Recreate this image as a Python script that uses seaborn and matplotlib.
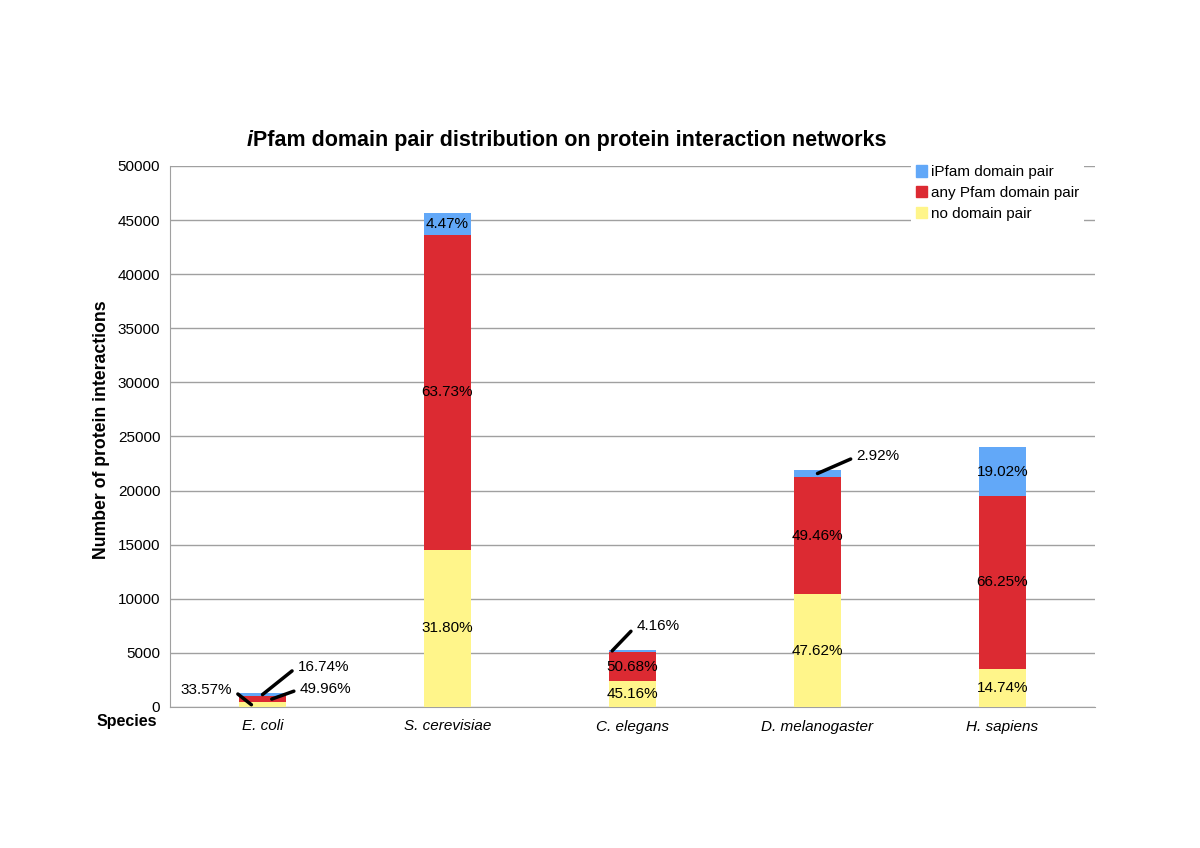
import numpy as np
import matplotlib
matplotlib.use("Agg")
import matplotlib.pyplot as plt
from matplotlib.patches import Patch
import seaborn as sns

species = ["E. coli", "S. cerevisiae", "C. elegans", "D. melanogaster", "H. sapiens"]
no_pair = [420, 14533, 2393, 10429, 3545]
any_pfam = [625, 29125, 2686, 10832, 15933]
ipfam = [209, 2043, 220, 639, 4574]
pct_no = ["33.57%", "31.80%", "45.16%", "47.62%", "14.74%"]
pct_any = ["49.96%", "63.73%", "50.68%", "49.46%", "66.25%"]
pct_ipfam = ["16.74%", "4.47%", "4.16%", "2.92%", "19.02%"]

c_blue = "#62a8f8"
c_red = "#dc2a32"
c_yellow = "#fff58a"
grid_c = "#a0a0a0"

sns.set_style("white")
plt.rcParams["font.family"] = ["Liberation Sans", "DejaVu Sans"]
plt.rcParams["text.color"] = "black"
plt.rcParams["xtick.labelcolor"] = "black"
plt.rcParams["ytick.labelcolor"] = "black"

fig = plt.figure(figsize=(12, 8.48), dpi=100)
ax = fig.add_axes([170 / 1200, 141 / 848, 925 / 1200, 541 / 848])

no_arr = np.array(no_pair)
red_top = no_arr + np.array(any_pfam)
total = red_top + np.array(ipfam)

# stacked layers drawn back to front
sns.barplot(x=species, y=total, color=c_blue, width=0.25, saturation=1, linewidth=0, ax=ax, zorder=3)
sns.barplot(x=species, y=red_top, color=c_red, width=0.25, saturation=1, linewidth=0, ax=ax, zorder=3)
sns.barplot(x=species, y=no_arr, color=c_yellow, width=0.25, saturation=1, linewidth=0, ax=ax, zorder=3)

ax.set_ylim(0, 50000)
ax.set_xlim(-0.5, 4.5)
ax.set_yticks(np.arange(0, 50001, 5000))
ax.yaxis.grid(True, color=grid_c, lw=1)
ax.set_axisbelow(True)
for s in ["top", "right"]:
    ax.spines[s].set_visible(False)
for s in ["left", "bottom"]:
    ax.spines[s].set_color(grid_c)
ax.tick_params(axis="y", which="major", direction="out", length=5, color=grid_c,
               labelcolor="black", labelsize=11, pad=2)
ax.tick_params(axis="x", which="major", length=0, labelsize=11, labelcolor="black", pad=9)
ax.set_xticks(np.arange(0.5, 5, 1), minor=True)
ax.tick_params(axis="x", which="minor", direction="out", length=5, color=grid_c)
for lbl in ax.get_xticklabels():
    lbl.set_style("italic")
ax.set_xlabel("")
ax.set_ylabel("")

# labels inside segments
lab_kw = dict(ha="center", va="center", fontsize=11, color="black", zorder=5)
small = {(0, 0), (0, 1), (0, 2), (2, 2), (3, 2)}
for i in range(len(species)):
    segs = [(no_pair[i] / 2, pct_no[i]),
            (no_pair[i] + any_pfam[i] / 2, pct_any[i]),
            (red_top[i] + ipfam[i] / 2, pct_ipfam[i])]
    for k, (yc, txt) in enumerate(segs):
        if (i, k) not in small:
            ax.text(i, yc, txt, **lab_kw)

# leader-line labels for thin segments
line_kw = dict(arrowstyle="-", lw=2.5, color="black", shrinkA=2, shrinkB=0)
def callout(i, dx, yval, txt, off, side="left"):
    ax.annotate(txt, xy=(i + dx, yval), xytext=off, textcoords="offset pixels",
                ha=side, va="center", fontsize=11, color="black", zorder=6,
                arrowprops=dict(relpos=(0, 0.5) if side == "left" else (1, 0.5), **line_kw))

callout(0, 0.0, total[0] - ipfam[0] / 2, pct_ipfam[0], (35, 28))
callout(0, 0.05, no_pair[0] + any_pfam[0] / 2, pct_any[0], (28, 10))
callout(0, -0.06, no_pair[0] / 2, pct_no[0], (-19, 15), side="right")
callout(2, -0.11, total[2] - ipfam[2] / 2, pct_ipfam[2], (24, 25))
callout(3, 0.0, total[3] - ipfam[3] / 2, pct_ipfam[3], (39, 17))

handles = [Patch(color=c_blue), Patch(color=c_red), Patch(color=c_yellow)]
leg = ax.legend(handles, ["iPfam domain pair", "any Pfam domain pair", "no domain pair"],
                loc="upper right", bbox_to_anchor=(0.996, 1.024), frameon=True,
                fontsize=11, handlelength=0.75, handleheight=0.75, handletextpad=0.25,
                labelspacing=0.45, borderpad=0.3, fancybox=False)
leg.get_frame().set_edgecolor("none")
leg.get_frame().set_facecolor("white")
leg.get_frame().set_alpha(1)

# title with italic i
t1 = fig.text(247 / 1200, 0.822, "i", fontsize=15.5, fontweight="bold", style="italic", va="bottom")
ax.annotate("Pfam domain pair distribution on protein interaction networks", xy=(1, 0),
            xycoords=t1, ha="left", va="bottom", fontsize=15.5, fontweight="bold",
            annotation_clip=False)

fig.text(102 / 1200, 0.493, "Number of protein interactions", rotation=90,
         ha="center", va="center", fontsize=12.7, fontweight="bold")
fig.text(97 / 1200, 0.1486, "Species", ha="left", va="center", fontsize=11.5, fontweight="bold")

fig.savefig("out.png", dpi=100)
